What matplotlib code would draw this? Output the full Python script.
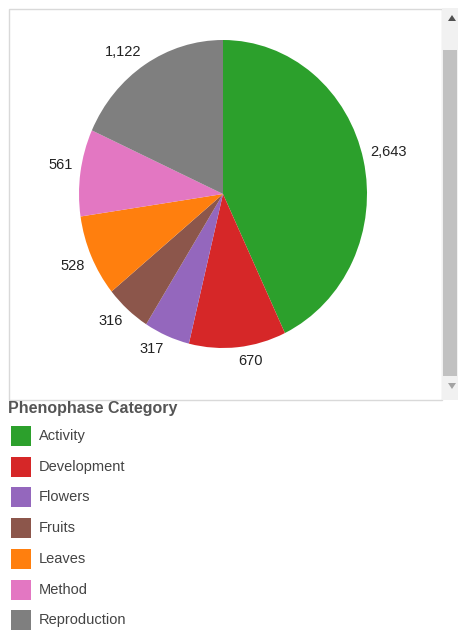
import matplotlib
matplotlib.use("Agg")
import matplotlib.pyplot as plt
from matplotlib.patches import Rectangle, Polygon

plt.rcParams["font.family"] = ["Liberation Sans", "DejaVu Sans"]

# data
categories = ["Activity", "Development", "Flowers", "Fruits", "Leaves", "Method", "Reproduction"]
counts = [2643, 670, 317, 316, 528, 561, 1122]
colors = ["#2ca02c", "#d62728", "#9467bd", "#8c564b", "#ff7f0e", "#e377c2", "#7f7f7f"]
legend_title = "Phenophase Category"

W, H = 459, 631
fig = plt.figure(figsize=(W / 100, H / 100), dpi=100)

# overlay axes in pixel coordinates for frame, scrollbar and legend
bg = fig.add_axes([0, 0, 1, 1])
bg.set_xlim(0, W)
bg.set_ylim(H, 0)
bg.axis("off")

bg.add_patch(Rectangle((8.5, 8.5), 433, 391, fill=False, edgecolor="#d9d9d9", linewidth=1))
bg.add_patch(Rectangle((442, 8), 16, 392, facecolor="#f1f1f1", edgecolor="none"))
bg.add_patch(Rectangle((443, 50), 14, 326, facecolor="#c1c1c1", edgecolor="none"))
bg.add_patch(Polygon([(448, 21), (456, 21), (452, 15)], closed=True, facecolor="#505050", edgecolor="none"))
bg.add_patch(Polygon([(448, 383), (456, 383), (452, 389)], closed=True, facecolor="#a3a3a3", edgecolor="none"))

# legend
bg.text(8, 408, legend_title, fontsize=11.5, fontweight="bold", color="#555555",
        ha="left", va="center")
row0, step = 436, 30.7
for i, (name, col) in enumerate(zip(categories, colors)):
    y = row0 + i * step
    bg.add_patch(Rectangle((11, y - 10), 20, 20, facecolor=col, edgecolor="none"))
    bg.text(39, y, name, fontsize=10.5, color="#444444", ha="left", va="center")

# pie
cx, cy, rx, ry = 223, 194, 144, 154
ax = fig.add_axes([(cx - 1.25 * rx) / W, 1 - (cy + 1.25 * ry) / H,
                   2.5 * rx / W, 2.5 * ry / H])
labels = [f"{v:,}" for v in counts]
wedges, texts = ax.pie(counts, labels=labels, colors=colors, startangle=90,
                       counterclock=False, labeldistance=1.05,
                       textprops={"fontsize": 10.5, "color": "#222222"})
# push labels a little further away vertically, like the original renderer
for t in texts:
    x, y = t.get_position()
    t.set_position((x, y + (0.04 if y > 0 else -0.04)))
ax.set_aspect("auto")
ax.set_xlim(-1.25, 1.25)
ax.set_ylim(-1.25, 1.25)
ax.axis("off")

fig.savefig("out.png", dpi=100)
